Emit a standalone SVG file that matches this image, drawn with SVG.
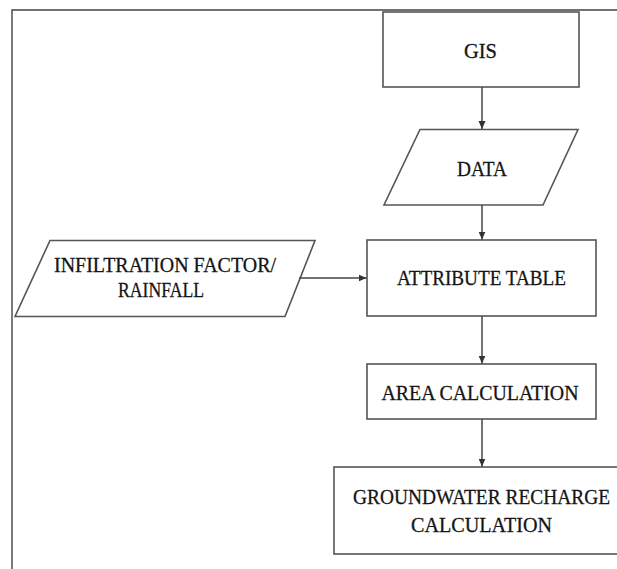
<svg xmlns="http://www.w3.org/2000/svg" width="617" height="569" viewBox="0 0 617 569">
<style>
.shape{fill:#fff;stroke:#555;stroke-width:1.6}
.frame{fill:none;stroke:#444;stroke-width:1.4}
.conn{fill:none;stroke:#444;stroke-width:1.5}
.t{font-family:'Liberation Serif','Times New Roman','DejaVu Serif',serif;font-size:22px;fill:#151515;stroke:#151515;stroke-width:0.3;text-anchor:middle}
</style>
<defs>
<marker id="arr" markerUnits="userSpaceOnUse" markerWidth="9" markerHeight="9" refX="8" refY="4.5" orient="auto">
<path d="M0,1 L8,4.5 L0,8 z" fill="#333"/>
</marker>
</defs>
<rect width="617" height="569" fill="#fff"/>
<path class="frame" d="M12,569 L12,10 L617,10"/>
<g id="gis">
<rect class="shape" x="383" y="12" width="196" height="75"/>
<text class="t" x="480.5" y="58" textLength="33" lengthAdjust="spacingAndGlyphs">GIS</text>
</g>
<g id="data">
<polygon class="shape" points="420,129.5 578,129.5 543,205 384,205"/>
<text class="t" x="482" y="176" textLength="50" lengthAdjust="spacingAndGlyphs">DATA</text>
</g>
<g id="attribute">
<rect class="shape" x="367" y="240" width="229" height="76"/>
<text class="t" x="481.5" y="285" textLength="169" lengthAdjust="spacingAndGlyphs">ATTRIBUTE TABLE</text>
</g>
<g id="infiltration">
<polygon class="shape" points="50,240.5 315,240.5 285,316.5 15,316.5"/>
<text class="t" x="165" y="272" textLength="222" lengthAdjust="spacingAndGlyphs">INFILTRATION FACTOR/</text>
<text class="t" x="161" y="297" textLength="86" lengthAdjust="spacingAndGlyphs">RAINFALL</text>
</g>
<g id="area">
<rect class="shape" x="367" y="364" width="229" height="55"/>
<text class="t" x="480" y="400" textLength="197" lengthAdjust="spacingAndGlyphs">AREA CALCULATION</text>
</g>
<g id="groundwater">
<rect class="shape" x="334" y="467" width="290" height="87"/>
<text class="t" x="481.5" y="504" textLength="257" lengthAdjust="spacingAndGlyphs">GROUNDWATER RECHARGE</text>
<text class="t" x="481.5" y="532" textLength="141" lengthAdjust="spacingAndGlyphs">CALCULATION</text>
</g>
<g id="connectors">
<line class="conn" x1="482" y1="87" x2="482" y2="129" marker-end="url(#arr)"/>
<line class="conn" x1="482" y1="205" x2="482" y2="239.5" marker-end="url(#arr)"/>
<line class="conn" x1="299" y1="278" x2="366.5" y2="278" marker-end="url(#arr)"/>
<line class="conn" x1="482" y1="316" x2="482" y2="363.5" marker-end="url(#arr)"/>
<line class="conn" x1="482" y1="419" x2="482" y2="466.5" marker-end="url(#arr)"/>
</g>
</svg>
